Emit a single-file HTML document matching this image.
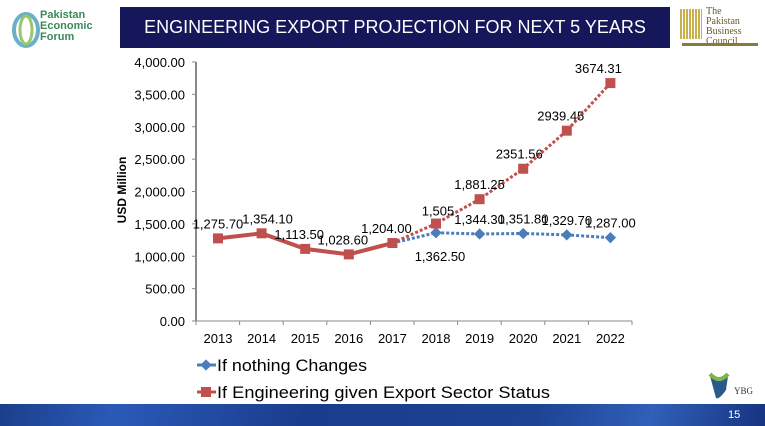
<!DOCTYPE html>
<html><head><meta charset="utf-8"><style>
body{margin:0;width:765px;height:426px;overflow:hidden;background:#fff;font-family:"Liberation Sans",sans-serif;position:relative}
.hdr{position:absolute;left:120px;top:7px;width:550px;height:41px;background:#16165a;color:#fff;font-size:18px;text-align:center;line-height:41px}
</style></head><body>
<div style="position:absolute;left:8px;top:10px;width:100px;height:40px">
<svg width="40" height="40"><ellipse cx="18" cy="20" rx="12" ry="16" fill="none" stroke="#6ab0c8" stroke-width="4"/><ellipse cx="18" cy="20" rx="6" ry="14" fill="none" stroke="#9bc66a" stroke-width="3"/></svg>
<div style="position:absolute;left:32px;top:0;font-size:11px;line-height:11px;color:#3a8a5a;font-weight:bold">Pakistan<br>Economic<br>Forum</div></div>
<div class="hdr">ENGINEERING EXPORT PROJECTION FOR NEXT 5 YEARS</div>
<div style="position:absolute;left:680px;top:5px;width:80px;height:44px">
<div style="position:absolute;left:0;top:4px;width:22px;height:30px;background:repeating-linear-gradient(90deg,#c8b04a 0 2px,#fff 2px 3px)"></div>
<div style="position:absolute;left:26px;top:2px;font-family:'Liberation Serif',serif;font-size:10px;line-height:10px;color:#6a5a2a">The<br>Pakistan<br>Business<br>Council</div>
<div style="position:absolute;left:2px;top:38px;width:76px;height:3px;background:#8a7a3a"></div></div>
<svg id="chart" width="765" height="426" style="position:absolute;left:0;top:0"></svg>
<div style="position:absolute;left:0;top:404px;width:765px;height:22px;background:linear-gradient(100deg,#1b3f8a 0%,#2a5ab8 15%,#1a3c8c 40%,#1d4394 70%,#3060b8 85%,#163480 100%)"></div>
<div style="position:absolute;left:728px;top:409px;color:#fff;font-size:11px">15</div>
<div style="position:absolute;left:708px;top:372px;width:50px;height:30px">
<svg width="22" height="28"><path d="M2 4 Q11 14 20 4 L18 18 Q11 28 8 26 Z" fill="#2a5a8a"/><path d="M2 2 Q11 12 20 2" fill="none" stroke="#7ab648" stroke-width="4"/></svg>
<div style="position:absolute;left:26px;top:14px;font-size:9px;font-family:'Liberation Serif',serif;color:#333">YBG</div></div>
<script>
const years=["2013","2014","2015","2016","2017","2018","2019","2020","2021","2022"];
const redVals=[1275.7,1354.1,1113.5,1028.6,1204,1505,1881.25,2351.56,2939.45,3674.31];
const redLabels=["1,275.70","1,354.10","1,113.50","1,028.60","1,204.00","1,505","1,881.25","2351.56","2939.45","3674.31"];
const blueVals=[1275.7,1354.1,1113.5,1028.6,1204,1362.5,1344.3,1351.8,1329.7,1287];
const blueLabels=["","","","","","1,362.50","1,344.30","1,351.80","1,329.70","1,287.00"];
const yTicks=[0,500,1000,1500,2000,2500,3000,3500,4000];
const yTickLabels=["0.00","500.00","1,000.00","1,500.00","2,000.00","2,500.00","3,000.00","3,500.00","4,000.00"];
const svg=document.getElementById('chart');const NS='http://www.w3.org/2000/svg';
const X=i=>218+i*43.6, Y=v=>321-v*259/4000;
function mk(t,a,p){const e=document.createElementNS(NS,t);for(const k in a)e.setAttribute(k,a[k]);(p||svg).appendChild(e);return e;}
const ax=mk('line',{x1:196,y1:Y(4000),x2:196,y2:321,stroke:'#888','stroke-width':2});

yTicks.forEach((v,i)=>{mk('line',{x1:192,y1:Y(v),x2:196,y2:Y(v),stroke:'#888'});
const t=mk('text',{x:185,y:Y(v)+5,'text-anchor':'end','font-size':13,fill:'#000'});t.textContent=yTickLabels[i];
});
const xa=mk('line',{x1:196,y1:321,x2:632,y2:321,stroke:'#888','stroke-width':1});

years.forEach((y,i)=>{mk('line',{x1:196+i*43.6,y1:321,x2:196+i*43.6,y2:325,stroke:'#888'});
const t=mk('text',{x:X(i),y:343,'text-anchor':'middle','font-size':13});t.textContent=y;
});
mk('line',{x1:632,y1:321,x2:632,y2:325,stroke:'#888'});
const yt=mk('text',{x:0,y:0,transform:'translate(126,190) rotate(-90)','text-anchor':'middle','font-size':12,'font-weight':'bold'});yt.textContent='USD Million';

// blue
const bp=mk('polyline',{points:blueVals.slice(4).map((v,i)=>X(i+4)+','+Y(v)).join(' '),fill:'none',stroke:'#4a7ebb','stroke-width':3,'stroke-dasharray':'3 2'});

blueVals.forEach((v,i)=>{if(i<5)return;const m=mk('rect',{x:X(i)-4,y:Y(v)-4,width:8,height:8,fill:'#4a7ebb',transform:`rotate(45 ${X(i)} ${Y(v)})`});
});
// red
const rs=mk('polyline',{points:redVals.slice(0,5).map((v,i)=>X(i)+','+Y(v)).join(' '),fill:'none',stroke:'#c0504d','stroke-width':4});

const rd=mk('polyline',{points:redVals.slice(4).map((v,i)=>X(i+4)+','+Y(v)).join(' '),fill:'none',stroke:'#c0504d','stroke-width':3,'stroke-dasharray':'3 2'});

redVals.forEach((v,i)=>{const m=mk('rect',{x:X(i)-5,y:Y(v)-5,width:10,height:10,fill:'#c0504d'});
});
const rOff=[[0,-14],[6,-14],[-6,-14],[-6,-14],[-6,-14],[2,-12],[0,-14],[-4,-14],[-6,-14],[-12,-14]];
redLabels.forEach((l,i)=>{const t=mk('text',{x:X(i)+rOff[i][0],y:Y(redVals[i])+rOff[i][1]+4,'text-anchor':'middle','font-size':13});t.textContent=l;
});
blueLabels.forEach((l,i)=>{if(!l)return;const dy=i==5?24:-14;const t=mk('text',{x:X(i)+(i==5?4:0),y:Y(blueVals[i])+dy+4,'text-anchor':'middle','font-size':13});t.textContent=l;
});
// legend
[["If nothing Changes",'#4a7ebb',365,'series-nothing-changes-legend'],["If Engineering given Export  Sector Status",'#c0504d',392,'series-export-status-legend']].forEach(([txt,c,y,n],k)=>{
const g=mk('g',{});
mk('line',{x1:197,y1:y,x2:216,y2:y,stroke:c,'stroke-width':3},g);
if(k==0)mk('rect',{x:202,y:y-4,width:8,height:8,fill:c,transform:`rotate(45 206 ${y})`},g);else mk('rect',{x:201,y:y-5,width:10,height:10,fill:c},g);
const t=mk('text',{x:217,y:y+6,'font-size':17,textLength:txt.length>20?333:150,lengthAdjust:'spacingAndGlyphs'},g);t.textContent=txt;});
</script></body></html>
